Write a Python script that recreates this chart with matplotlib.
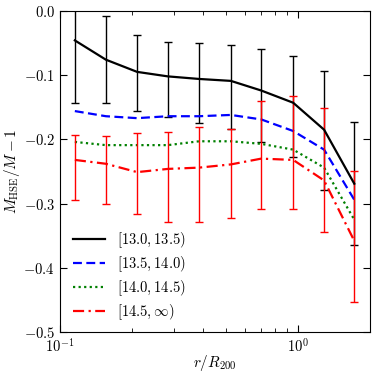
import numpy as np
from matplotlib import pyplot as plt
from matplotlib.lines import Line2D
from matplotlib.ticker import FuncFormatter, LogLocator, NullFormatter

plt.rcParams['mathtext.fontset'] = 'cm'
plt.rcParams['font.family'] = 'serif'
plt.rcParams['font.serif'] = ['DejaVu Serif']

r = [0.1156, 0.156, 0.211, 0.284, 0.384, 0.522, 0.700, 0.953, 1.285, 1.72]

m1 = [-0.046, -0.076, -0.095, -0.102, -0.106, -0.109, -0.124, -0.143, -0.185, -0.269]
m1_hi = [0.051, -0.008, -0.037, -0.049, -0.050, -0.053, -0.060, -0.071, -0.094, -0.173]
m1_lo = [-0.143, -0.144, -0.156, -0.165, -0.174, -0.184, -0.204, -0.227, -0.279, -0.365]

m2 = [-0.156, -0.164, -0.167, -0.164, -0.164, -0.162, -0.169, -0.187, -0.216, -0.294]
m3 = [-0.204, -0.209, -0.209, -0.209, -0.203, -0.203, -0.207, -0.216, -0.244, -0.325]

m4 = [-0.232, -0.238, -0.251, -0.246, -0.244, -0.239, -0.230, -0.232, -0.264, -0.358]
m4_hi = [-0.193, -0.195, -0.190, -0.188, -0.180, -0.184, -0.141, -0.133, -0.151, -0.250]
m4_lo = [-0.295, -0.301, -0.316, -0.328, -0.329, -0.323, -0.309, -0.309, -0.344, -0.453]

labels = [r'$[13.0, 13.5)$', r'$[13.5, 14.0)$', r'$[14.0, 14.5)$', r'$[14.5, \infty)$']

m1 = np.array(m1)
m4 = np.array(m4)
err1 = [m1 - np.array(m1_lo), np.array(m1_hi) - m1]
err4 = [m4 - np.array(m4_lo), np.array(m4_hi) - m4]

styles = [('k', '-'), ('b', (0, (4, 2))), ('g', (0, (1, 1.5))), ('r', (0, (5, 2, 1, 2)))]

fig = plt.figure(figsize=(3.74, 3.74), dpi=100)
ax = fig.add_axes([0.160, 0.112, 0.829, 0.859])

ax.errorbar(r, m1, yerr=err1, color='k', lw=1.6, elinewidth=1.0, capsize=3,
            capthick=1.0, ls=styles[0][1])
ax.plot(r, m2, color='b', lw=1.6, ls=styles[1][1])
ax.plot(r, m3, color='g', lw=1.6, ls=styles[2][1])
ax.errorbar(r, m4, yerr=err4, color='r', lw=1.6, elinewidth=1.0, capsize=3,
            capthick=1.0, ls=styles[3][1])

ax.set_xscale('log')
ax.set_xlim(0.1, 2.0)
ax.set_ylim(-0.5, 0.0)
ax.set_yticks(np.arange(-0.5, 0.01, 0.1))
ax.yaxis.set_major_formatter(FuncFormatter(lambda v, p: r'$%.1f$' % v if abs(v) > 1e-9 else r'$0.0$'))
ax.xaxis.set_major_formatter(FuncFormatter(lambda v, p: r'$10^{%d}$' % round(np.log10(v))))
ax.xaxis.set_minor_locator(LogLocator(base=10, subs=np.arange(2, 10)))
ax.xaxis.set_minor_formatter(NullFormatter())
ax.tick_params(which='both', direction='in', top=True, right=True, labelsize=10.5)
ax.tick_params(which='major', length=5)
ax.tick_params(which='minor', length=3)

ax.set_xlabel(r'$r/R_{200}$', fontsize=11, labelpad=-1)
ax.set_ylabel(r'$M_{\rm HSE}/M-1$', fontsize=11, labelpad=1)

handles = [Line2D([], [], color=c, ls=s, lw=1.6) for c, s in styles]
ax.legend(handles, labels, loc='lower left', frameon=False, fontsize=10.5,
          handlelength=2.2, handletextpad=0.8, labelspacing=0.3,
          bbox_to_anchor=(0.0, -0.01))

fig.savefig('out.png', dpi=100)
